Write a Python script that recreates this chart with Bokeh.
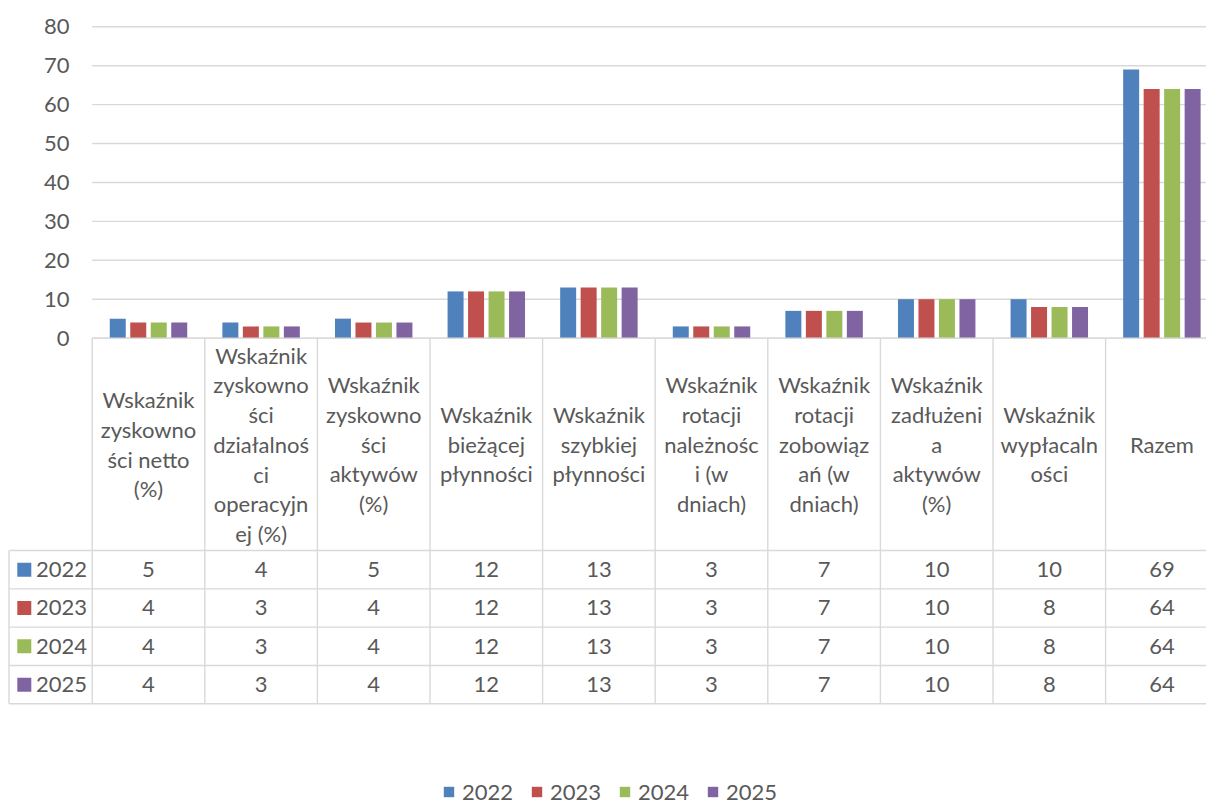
from bokeh.plotting import figure
from bokeh.models import Range1d, Legend, LegendItem, ColumnDataSource
from bokeh.core.properties import value
from bokeh.embed import file_html
from bokeh.resources import INLINE

# ---------------- data ----------------
categories = [
    "Wskaźnik\nzyskowno\nści netto\n(%)",
    "Wskaźnik\nzyskowno\nści\ndziałalnoś\nci\noperacyjn\nej (%)",
    "Wskaźnik\nzyskowno\nści\naktywów\n(%)",
    "Wskaźnik\nbieżącej\npłynności",
    "Wskaźnik\nszybkiej\npłynności",
    "Wskaźnik\nrotacji\nnależnośc\ni (w\ndniach)",
    "Wskaźnik\nrotacji\nzobowiąz\nań (w\ndniach)",
    "Wskaźnik\nzadłużeni\na\naktywów\n(%)",
    "Wskaźnik\nwypłacaln\nośći".replace("śći", "ści"),
    "Razem",
]
years = ["2022", "2023", "2024", "2025"]
v2022 = [5, 4, 5, 12, 13, 3, 7, 10, 10, 69]
v2023 = [4, 3, 4, 12, 13, 3, 7, 10, 8, 64]
v2024 = [4, 3, 4, 12, 13, 3, 7, 10, 8, 64]
v2025 = [4, 3, 4, 12, 13, 3, 7, 10, 8, 64]
series = [v2022, v2023, v2024, v2025]
colors = ["#4F81BD", "#C0504D", "#9BBB59", "#8064A2"]
y_ticks = [0, 10, 20, 30, 40, 50, 60, 70, 80]

# ---------------- layout ----------------
W, H = 1206, 807
PX = 112.6          # pixels per category
UY = 3.891          # pixels per value unit
X0 = 91.7           # pixel of first category edge
Z0 = 337.6          # pixel of zero line from top
FONT = "Lato"
FS = "22px"
TXT = "#595959"
GRID = "#D9D9D9"

N = len(categories)
header_h = 54.59
row_h = 9.85
table_bottom = -(header_h + row_h * len(years))

p = figure(width=W, height=H,
           x_range=Range1d(-X0 / PX, (W - X0) / PX),
           y_range=Range1d(-(H - Z0) / UY, Z0 / UY),
           x_axis_type=None, y_axis_type=None,
           output_backend="svg", toolbar_location=None,
           min_border=0, min_border_left=0, min_border_right=0,
           min_border_top=0, min_border_bottom=0)
p.outline_line_color = None
p.background_fill_color = "white"
p.border_fill_color = "white"

# gridlines
p.segment(x0=[0] * len(y_ticks), x1=[N + 0.5] * len(y_ticks),
          y0=y_ticks, y1=y_ticks, line_color=GRID, line_width=1.4)

# y tick labels
p.text(x=[(69 - X0) / PX] * len(y_ticks), y=y_ticks, text=[str(t) for t in y_ticks],
       text_align="right", text_baseline="middle", text_font=value(FONT),
       text_font_size=FS, text_color=TXT)

# bars
step = 0.182
bw = 0.142
renderers = []
xs_base = [i + 0.5 for i in range(N)]
for k, (yr, vals, col) in enumerate(zip(years, series, colors)):
    off = (k - 1.5) * step
    src = ColumnDataSource(dict(x=[x + off for x in xs_base], top=vals))
    r = p.vbar(x="x", top="top", bottom=0, width=bw, source=src,
               fill_color=col, line_color=None)
    renderers.append(r)

# table lines
left_edge = (8.5 - X0) / PX
p.segment(x0=list(range(N + 1)), x1=list(range(N + 1)),
          y0=[0] * (N + 1), y1=[table_bottom] * (N + 1),
          line_color=GRID, line_width=1.4)
p.segment(x0=[left_edge], x1=[left_edge], y0=[-header_h], y1=[table_bottom],
          line_color=GRID, line_width=1.4)
hy = [-header_h - row_h * k for k in range(len(years) + 1)]
p.segment(x0=[left_edge] * len(hy), x1=[N] * len(hy), y0=hy, y1=hy,
          line_color=GRID, line_width=1.4)
p.segment(x0=[0], x1=[N + 0.5], y0=[0], y1=[0], line_color=GRID, line_width=1.4)

# header labels
p.text(x=xs_base, y=[-header_h / 2] * N, text=categories,
       text_align="center", text_baseline="middle", text_font=value(FONT),
       text_font_size=FS, text_color=TXT, text_line_height=1.1)

# row labels and values
for k, (yr, vals, col) in enumerate(zip(years, series, colors)):
    yc = -(header_h + row_h * (k + 0.5))
    p.scatter(x=[(23.8 - X0) / PX], y=[yc], marker="square", size=14,
              fill_color=col, line_color=None)
    p.text(x=[(35.5 - X0) / PX], y=[yc], text=[yr], text_align="left",
           text_baseline="middle", text_font=value(FONT), text_font_size=FS,
           text_color=TXT)
    p.text(x=xs_base, y=[yc] * N, text=[str(v) for v in vals],
           text_align="center", text_baseline="middle", text_font=value(FONT),
           text_font_size=FS, text_color=TXT)

legend = Legend(items=[LegendItem(label=yr, renderers=[r]) for yr, r in zip(years, renderers)],
                orientation="horizontal", location=(442, 2),
                glyph_width=13, glyph_height=13, label_standoff=7, spacing=0,
                label_width=68, label_height=20, padding=0, margin=0,
                border_line_color=None, background_fill_alpha=0,
                label_text_font=FONT, label_text_font_size=FS,
                label_text_color=TXT)
p.add_layout(legend)

open("out.html", "w").write(file_html(p, INLINE))
